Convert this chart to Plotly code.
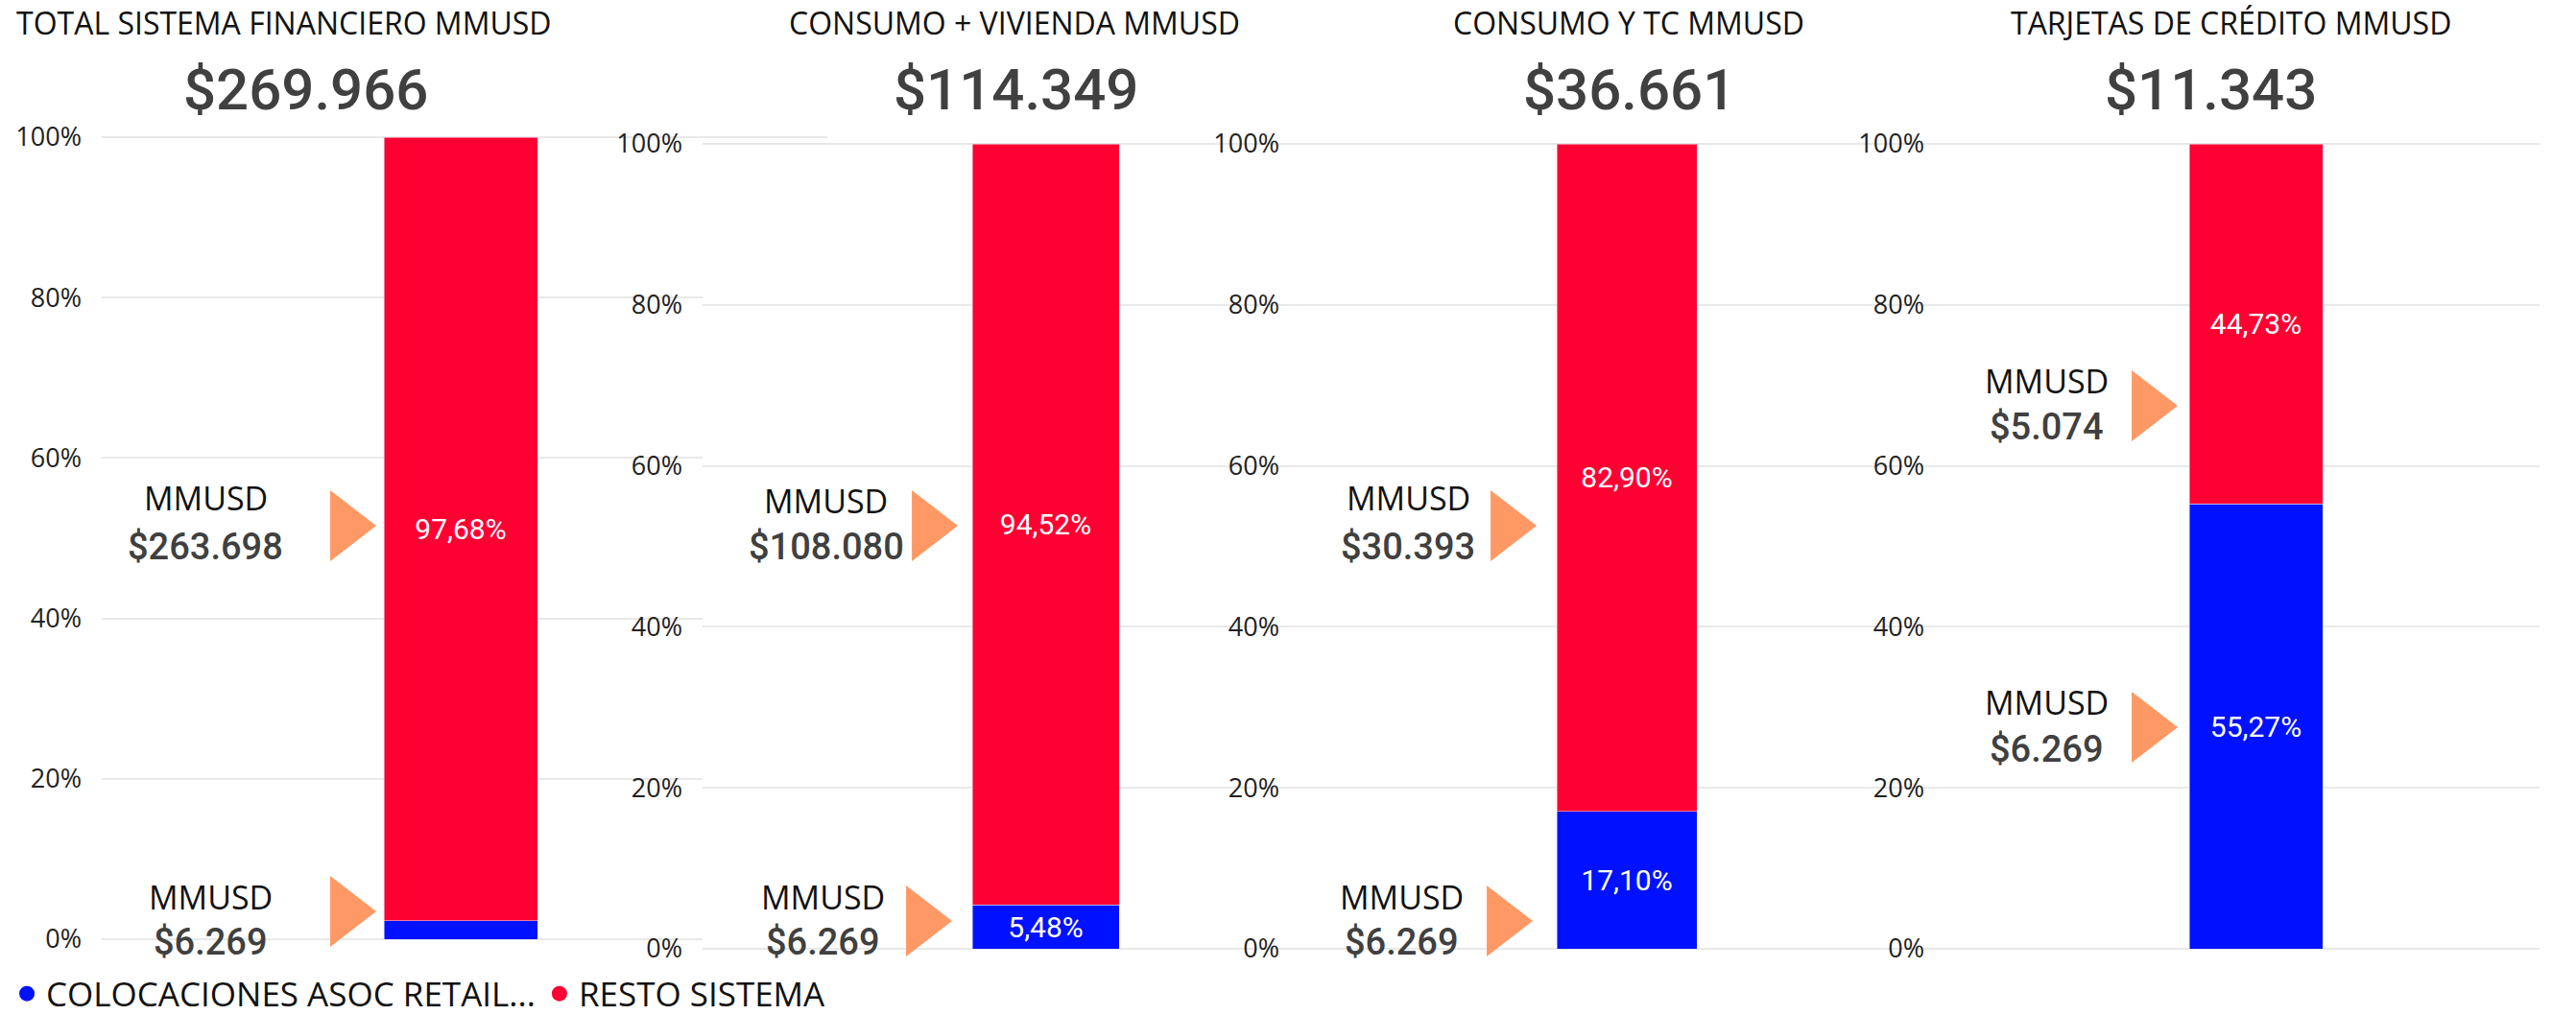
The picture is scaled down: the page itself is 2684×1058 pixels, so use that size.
import plotly.graph_objects as go

# ---------------- data ----------------
panel_titles = ["TOTAL SISTEMA FINANCIERO MMUSD", "CONSUMO + VIVIENDA MMUSD",
                "CONSUMO Y TC MMUSD", "TARJETAS DE CRÉDITO MMUSD"]
total_mmusd = [269966, 114349, 36661, 11343]
retail_mmusd = [6269, 6269, 6269, 6269]
resto_mmusd = [263698, 108080, 30393, 5074]
retail_pct = [2.32, 5.48, 17.10, 55.27]
resto_pct = [97.68, 94.52, 82.90, 44.73]
series_names = ["COLOCACIONES ASOC RETAIL...", "RESTO SISTEMA"]
y_ticks = [0, 0.2, 0.4, 0.6, 0.8, 1.0]

# ---------------- style / layout ----------------
W, H = 2684, 1058
BLUE = "#0011FF"
RED = "#FF0033"
ORANGE = "#FE9966"
GRID = "#E9E9E9"
SANS = "Open Sans, Noto Sans, sans-serif"
NUM = "Roboto, DejaVu Sans, sans-serif"
PAD = 0.003  # small range padding so the 0% / 100% gridlines are drawn

# pixel geometry of each panel (layout only)
GEOM = [
    dict(L=106, R=862, bl=400, br=560, top=143, bot=979, title=296, num=318,
         tri=[(397, 548), (397, 950)], lab=[(214, 519, 570), (219, 935, 982)]),
    dict(L=732, R=1454, bl=1013, br=1166, top=150, bot=989, title=1057, num=1058,
         tri=[(1003, 548), (997, 960)], lab=[(861, 522, 570), (857, 935, 982)]),
    dict(L=1354, R=2046, bl=1622, br=1768, top=150, bot=989, title=1697, num=1697,
         tri=[(1606, 548), (1602, 960)], lab=[(1467, 519, 570), (1461, 935, 982)]),
    dict(L=2026, R=2646, bl=2281, br=2420, top=150, bot=989, title=2324, num=2303,
         tri=[(2274, 423), (2274, 758)], lab=[(2132, 397, 445), (2132, 732, 781)]),
]
TRI_SIZE = 64
TRI_RT = (TRI_SIZE / 2) * 2 / 3 ** 0.5  # distance center->tip for triangle-right


def fmt_money(v):
    return "$" + f"{v:,}".replace(",", ".")


def fmt_pct(v):
    return f"{v:.2f}".replace(".", ",") + "%"


def px_to_x(g, px):
    c = (g["bl"] + g["br"]) / 2
    return (px - c) / (g["br"] - g["bl"])


def px_to_y(g, py):
    return (g["bot"] - py) / (g["bot"] - g["top"])


fig = go.Figure()
annotations = []

for i, g in enumerate(GEOM):
    sfx = "" if i == 0 else str(i + 1)
    xa, ya = "x" + sfx, "y" + sfx
    fig.add_trace(go.Bar(
        x=[0], y=[retail_pct[i] / 100], width=[1], marker_color=BLUE,
        name=series_names[0], showlegend=False,
        text=[fmt_pct(retail_pct[i])], textposition="inside",
        insidetextanchor="middle", textangle=0,
        textfont=dict(color="white", size=30, family=NUM),
        xaxis=xa, yaxis=ya))
    fig.add_trace(go.Bar(
        x=[0], y=[resto_pct[i] / 100], width=[1], marker_color=RED,
        name=series_names[1], showlegend=False,
        text=[fmt_pct(resto_pct[i])], textposition="inside",
        insidetextanchor="middle", textangle=0,
        textfont=dict(color="white", size=30, family=NUM),
        xaxis=xa, yaxis=ya))
    # callout triangles
    fig.add_trace(go.Scatter(
        x=[px_to_x(g, tx - TRI_RT) for tx, ty in g["tri"]],
        y=[px_to_y(g, ty) for tx, ty in g["tri"]],
        mode="markers", showlegend=False, hoverinfo="skip", cliponaxis=False,
        marker=dict(symbol="triangle-right", size=TRI_SIZE, color=ORANGE),
        xaxis=xa, yaxis=ya))
    # callout texts: top -> resto, bottom -> retail
    vals = [resto_mmusd[i], retail_mmusd[i]]
    for (lx, ly1, ly2), v in zip(g["lab"], vals):
        annotations.append(dict(xref="paper", yref="paper", x=lx / W, y=1 - ly1 / H,
                                text="MMUSD", showarrow=False, xanchor="center", yanchor="middle",
                                font=dict(family=SANS, size=34, color="#111111")))
        annotations.append(dict(xref="paper", yref="paper", x=lx / W, y=1 - ly2 / H,
                                text=fmt_money(v), showarrow=False, xanchor="center", yanchor="middle",
                                font=dict(family=NUM, size=38, color="#404040", weight=500)))
    # titles and totals
    annotations.append(dict(xref="paper", yref="paper", x=g["title"] / W, y=1 - 24 / H,
                            text=panel_titles[i], showarrow=False, xanchor="center", yanchor="middle",
                            font=dict(family=SANS, size=32, color="#111111")))
    annotations.append(dict(xref="paper", yref="paper", x=g["num"] / W, y=1 - 94 / H,
                            text=fmt_money(total_mmusd[i]), showarrow=False, xanchor="center",
                            yanchor="middle",
                            font=dict(family=NUM, size=60, color="#404040", weight=500)))

    c = (g["bl"] + g["br"]) / 2
    w = g["br"] - g["bl"]
    span = g["bot"] - g["top"]
    top_px = g["top"] - PAD * span
    bot_px = g["bot"] + PAD * span
    fig.layout["xaxis" + sfx] = dict(
        domain=[g["L"] / W, g["R"] / W], range=[(g["L"] - c) / w, (g["R"] - c) / w],
        showgrid=False, zeroline=False, showticklabels=False, showline=False,
        fixedrange=True, anchor=ya, automargin=False)
    fig.layout["yaxis" + sfx] = dict(
        domain=[1 - bot_px / H, 1 - top_px / H], range=[-PAD, 1 + PAD],
        tickvals=y_ticks, tickformat=".0%", showgrid=True, gridcolor=GRID, gridwidth=2,
        zeroline=False, showline=False, ticks="", ticklabelstandoff=20,
        tickfont=dict(family=SANS, size=27, color="#222222"),
        fixedrange=True, anchor=xa, automargin=False)

# legend entries (circle markers as in the original)
for name, col in zip(series_names, [BLUE, RED]):
    fig.add_trace(go.Scatter(x=[None], y=[None], mode="markers", name=name,
                             marker=dict(symbol="circle", size=20, color=col),
                             showlegend=True))

fig.update_layout(
    width=W, height=H, margin=dict(l=0, r=0, t=0, b=0, autoexpand=False),
    paper_bgcolor="white", plot_bgcolor="white",
    barmode="stack",
    uniformtext=dict(minsize=30, mode="hide"),
    showlegend=True,
    legend=dict(orientation="h", x=0.003, xanchor="left", y=-0.007, yanchor="bottom",
                traceorder="normal",
                font=dict(family=SANS, size=35, color="#111111"),
                itemwidth=30, tracegroupgap=0, bgcolor="rgba(0,0,0,0)"),
    annotations=annotations,
)

fig.write_html("out.html", config={"displayModeBar": False},
               post_script="document.body.style.margin='0';")
